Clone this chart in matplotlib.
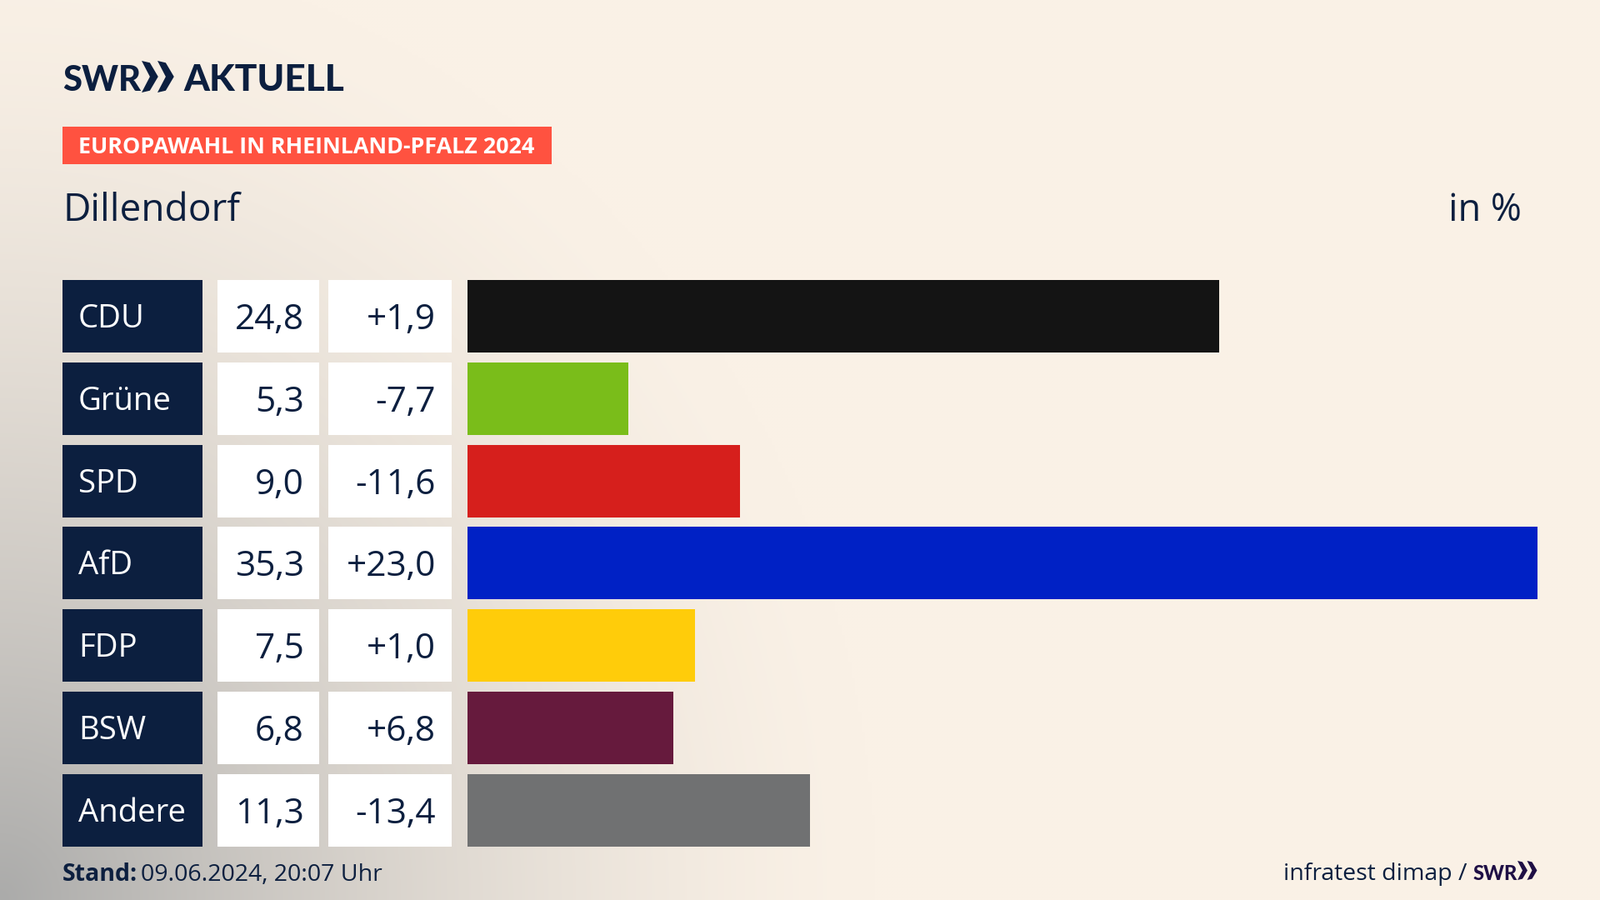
import numpy as np
import matplotlib
matplotlib.use("Agg")
import matplotlib.pyplot as plt
from matplotlib.patches import Rectangle, Polygon

parties = ["CDU", "Grüne", "SPD", "AfD", "FDP", "BSW", "Andere"]
shares = [24.8, 5.3, 9.0, 35.3, 7.5, 6.8, 11.3]
changes = [1.9, -7.7, -11.6, 23.0, 1.0, 6.8, -13.4]
bar_colors = ["#141414", "#7ABD1A", "#D61F1C", "#0021C5", "#FFCC0A", "#661A3D", "#707172"]

NAVY = "#0C1F3F"
PURPLE = "#1F0F45"
FONT = "Open Sans"
LOGO_FONT = "Lato"
W, H = 1920, 1080

# row layout in pixels
ROW_TOP = 336
ROW_H = 87
ROW_PITCH = 98.83


def fmt(v, sign=False):
    s = f"{v:+.1f}" if sign else f"{v:.1f}"
    return s.replace(".", ",")


def chevrons(ax, x, y, h, color):
    # the two arrows of the SWR logo
    w = h * 0.52
    step = h * 0.5
    for dx in (0, step):
        ax.add_patch(Polygon([
            (x + dx, y), (x + dx + w * 0.5, y + h * 0.06), (x + dx + w, y + h / 2),
            (x + dx + w * 0.5, y + h * 0.94), (x + dx, y + h),
            (x + dx + w * 0.5, y + h / 2),
        ], closed=True, fc=color, ec="none"))


fig = plt.figure(figsize=(W / 100, H / 100), dpi=100)

# background: cream with a grey glow from the bottom left corner
bg = fig.add_axes([0, 0, 1, 1])
yy, xx = np.mgrid[0:H:270j, 0:W:480j]
dist = np.sqrt((xx / 1050) ** 2 + ((yy - H) / 1150) ** 2)
glow = np.clip(1 - dist, 0, 1) ** 1.5
cream = np.array([250, 241, 230]) / 255
grey = np.array([171, 171, 170]) / 255
img = cream + (grey - cream) * glow[..., None]
bg.imshow(img, extent=[0, W, H, 0], aspect="auto", interpolation="bilinear")
bg.set_xlim(0, W)
bg.set_ylim(H, 0)
bg.axis("off")

# logo
bg.text(75, 109, "SWR", fontfamily=LOGO_FONT, fontweight=900,
        fontsize=30, color=NAVY, va="baseline")
chevrons(bg, 170, 73, 38, NAVY)
bg.text(220, 109, "AKTUELL", fontfamily=LOGO_FONT, fontweight=900,
        fontsize=31.8, color=NAVY, va="baseline")

# banner and headings
bg.add_patch(Rectangle((75, 152), 587, 45, fc="#FF5240", ec="none"))
bg.text(94, 184, "EUROPAWAHL IN RHEINLAND-PFALZ 2024", fontfamily=FONT,
        fontweight="bold", fontsize=19.4, color="white", va="baseline")
bg.text(76, 265, "Dillendorf", fontfamily=FONT, fontsize=33, color=NAVY, va="baseline")
bg.text(1826, 265, "in %", fontfamily=FONT, fontsize=32.5, color=NAVY, va="baseline", ha="right")

# table cells
for i, party in enumerate(parties):
    top = ROW_TOP + i * ROW_PITCH
    label_base = top + ROW_H / 2 + 13.5
    value_base = top + ROW_H / 2 + 15.5
    bg.add_patch(Rectangle((75, top), 167.5, ROW_H, fc=NAVY, ec="none"))
    bg.add_patch(Rectangle((261, top), 122, ROW_H, fc="white", ec="none"))
    bg.add_patch(Rectangle((394, top), 148, ROW_H, fc="white", ec="none"))
    bg.text(94, label_base, party, fontfamily=FONT, fontsize=27.5, color="white", va="baseline")
    bg.text(365, value_base, fmt(shares[i]), fontfamily=FONT, fontsize=30.5, color=NAVY,
            va="baseline", ha="right")
    bg.text(523, value_base, fmt(changes[i], sign=True), fontfamily=FONT, fontsize=30.5, color=NAVY,
            va="baseline", ha="right")

# bars
x0, x1 = 561, 1845
y0, y1 = ROW_TOP, ROW_TOP + 6 * ROW_PITCH + ROW_H
ax = fig.add_axes([x0 / W, 1 - y1 / H, (x1 - x0) / W, (y1 - y0) / H])
ax.patch.set_alpha(0)
bar_h = ROW_H / ROW_PITCH
ax.barh(range(len(parties)), shares, height=bar_h, color=bar_colors)
ax.set_xlim(0, max(shares))
ax.set_ylim(len(parties) - 1 + bar_h / 2, -bar_h / 2)
ax.axis("off")

# footer
bg.text(75, 1057, "Stand:", fontfamily=FONT, fontweight="bold",
        fontsize=20.5, color=NAVY, va="baseline")
bg.text(169, 1057, "09.06.2024, 20:07 Uhr", fontfamily=FONT, fontsize=20.5, color=NAVY, va="baseline")
bg.text(1760, 1056, "infratest dimap /", fontfamily=FONT, fontsize=20.5, color=NAVY,
        va="baseline", ha="right")
bg.text(1768, 1056, "SWR", fontfamily=LOGO_FONT, fontweight=900,
        fontsize=17, color=PURPLE, va="baseline")
chevrons(bg, 1821, 1033, 23, PURPLE)

fig.savefig("out.png", dpi=100)
